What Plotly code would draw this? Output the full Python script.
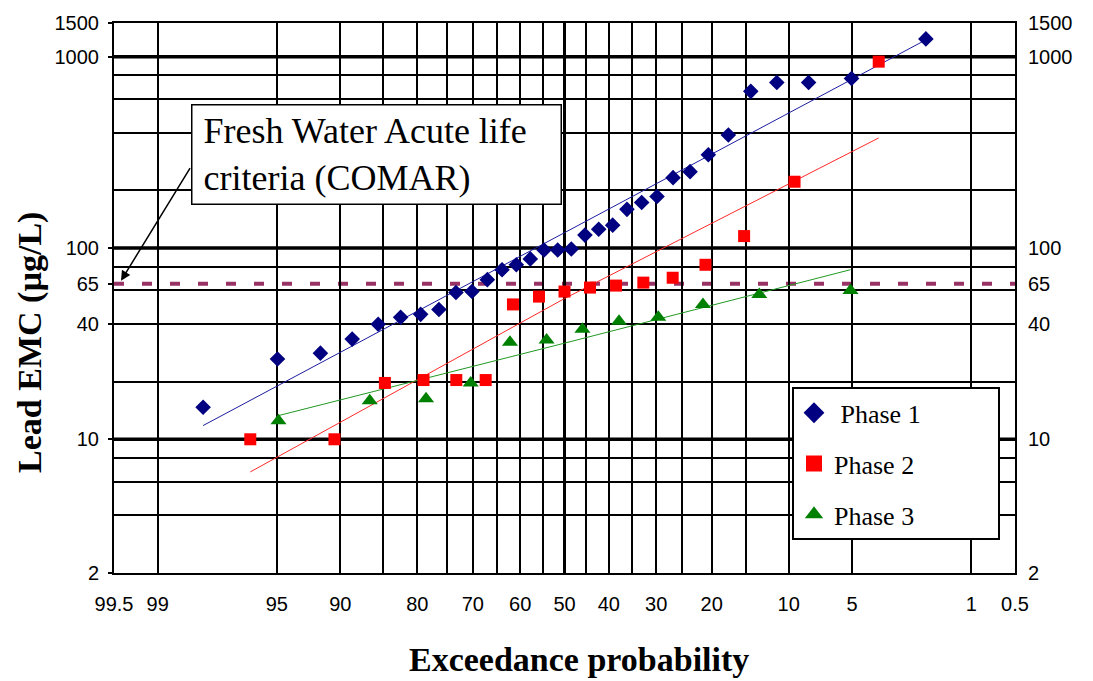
import math
from statistics import NormalDist
import plotly.graph_objects as go

# ---------------- data ----------------
phase1_exceed = [98.06, 94.96, 91.86, 88.76, 85.66, 82.56, 79.46, 76.36, 73.26, 70.16,
                 67.05, 63.95, 60.85, 57.75, 54.65, 51.55, 48.45, 45.35, 42.25, 39.15,
                 36.05, 32.95, 29.84, 26.74, 23.64, 20.54, 17.44, 14.34, 11.24, 8.14,
                 5.04, 1.94]
phase1_emc = [14.7, 26.3, 28.2, 33.4, 39.9, 43.4, 45.0, 47.7, 58.5, 59.2,
              68.3, 76.9, 81.7, 87.7, 97.6, 97.6, 98.8, 116.8, 125.4, 131.6,
              159.2, 173.0, 185.9, 233.2, 250.6, 307.0, 389.7, 659.0, 733.0, 733.0,
              769.0, 1239.0]

phase2_exceed = [96.38, 90.58, 84.78, 78.99, 73.19, 67.39, 61.59, 55.80, 50.00, 44.20,
                 38.41, 32.61, 26.81, 21.01, 15.22, 9.42, 3.62]
phase2_emc = [10.0, 10.0, 19.7, 20.4, 20.4, 20.4, 50.7, 55.7, 59.2, 62.1,
              63.6, 65.9, 69.9, 81.7, 115.4, 222.0, 942.0]

phase3_exceed = [94.90, 86.73, 78.57, 70.41, 62.24, 54.08, 45.92, 37.76, 29.59, 21.43,
                 13.27, 5.10]
phase3_emc = [12.5, 15.9, 16.3, 19.7, 32.2, 33.0, 37.6, 41.4, 43.4, 50.7, 57.1, 59.9]

# trend lines
trend1_exceed = [98.06, 50.0, 1.94]
trend1_emc = [11.8, 120.0, 1225.0]
trend2_exceed = [96.38, 50.0, 3.62]
trend2_emc = [6.75, 54.4, 376.0]
trend3_exceed = [94.90, 50.0, 5.10]
trend3_emc = [13.3, 31.8, 77.0]

criterion_value = 65
criterion_label = ["Fresh Water Acute life", "criteria (COMAR)"]

series_names = ["\u00a0Phase 1", "Phase 2", "Phase 3"]

x_grid_probs = [99.5, 99, 95, 90, 85, 80, 75, 70, 65, 60, 55, 50, 45, 40, 35, 30,
                25, 20, 15, 10, 5, 1, 0.5]
x_label_probs = [99.5, 99, 95, 90, 80, 70, 60, 50, 40, 30, 20, 10, 5, 1, 0.5]
x_label_text = ["99.5", "99", "95", "90", "80", "70", "60", "50", "40", "30", "20",
                "10", "5", "1", "0.5"]

y_grid_vals = [2, 4, 6, 8, 10, 20, 40, 60, 80, 100, 200, 400, 600, 800, 1000, 1500]
y_major_vals = [10, 100, 1000]
y_label_vals = [2, 10, 40, 65, 100, 1000, 1500]
y_label_text = ["2", "10", "40", "65", "100", "1000", "1500"]

y_min, y_max = 2, 1500
p_min, p_max = 99.5, 0.5

# ---------------- helpers ----------------
nd = NormalDist()


def px(p):
    """exceedance probability (%) -> normal-probability axis coordinate"""
    return nd.inv_cdf(1 - p / 100.0)


def pxl(lst):
    return [px(p) for p in lst]


SERIF = "Times New Roman, Liberation Serif, serif"
SANS = "Arial, Liberation Sans, sans-serif"

colors = ["#000080", "#ff0000", "#008000"]
symbols = ["diamond", "square", "triangle-up"]
sizes = [12, 12, 14]
trend_colors = ["#1c1ca0", "#ff2a2a", "#229922"]
pad_counts = [11, 12, 12]

fig = go.Figure()

trends = [(trend1_exceed, trend1_emc), (trend2_exceed, trend2_emc),
          (trend3_exceed, trend3_emc)]
for (te, tv), c in zip(trends, trend_colors):
    fig.add_trace(go.Scatter(x=pxl(te), y=tv, mode="lines",
                             line=dict(color=c, width=1), showlegend=False,
                             hoverinfo="skip"))

series = [(phase1_exceed, phase1_emc), (phase2_exceed, phase2_emc),
          (phase3_exceed, phase3_emc)]
for i, ((pe, pv), name) in enumerate(zip(series, series_names)):
    fig.add_trace(go.Scatter(x=pxl(pe), y=pv, mode="markers", name=name.strip(),
                             showlegend=False,
                             marker=dict(symbol=symbols[i], size=sizes[i],
                                         color=colors[i])))
    # legend entry with the larger legend symbol
    fig.add_trace(go.Scatter(x=[None], y=[None], mode="markers",
                             name=name + "\u00a0" * pad_counts[i],
                             legendgroup="g%d" % i,
                             marker=dict(symbol=symbols[i], size=16,
                                         color=colors[i])))

# invisible trace on the right-hand axis so it is drawn
fig.add_trace(go.Scatter(x=[px(50)], y=[criterion_value], yaxis="y2", mode="markers",
                         marker=dict(opacity=0), showlegend=False, hoverinfo="skip"))

shapes = []
for v in y_major_vals:
    shapes.append(dict(type="line", xref="paper", x0=0, x1=1, yref="y", y0=v, y1=v,
                       line=dict(color="black", width=3.5), layer="between"))
shapes.append(dict(type="line", xref="paper", x0=0, x1=1, yref="y",
                   y0=criterion_value, y1=criterion_value,
                   line=dict(color="#993366", width=4, dash="10px,18px"),
                   layer="between"))

yrange = [math.log10(y_min), math.log10(y_max)]
xrange = [px(p_min), px(p_max)]

fig.update_layout(
    width=1093, height=681,
    margin=dict(l=114, r=78, t=16, b=108),
    paper_bgcolor="white", plot_bgcolor="white",
    shapes=shapes,
    xaxis=dict(
        range=xrange, tickmode="array", tickvals=pxl(x_label_probs),
        ticktext=x_label_text, showgrid=False, ticks="",
        tickfont=dict(family=SANS, size=20, color="black"),
        ticklabelstandoff=12,
        minor=dict(tickmode="array", tickvals=pxl(x_grid_probs), showgrid=True,
                   gridcolor="black", gridwidth=1.5, ticks=""),
        zeroline=True, zerolinecolor="black", zerolinewidth=3,
        showline=True, linecolor="black", linewidth=2, mirror=True,
    ),
    yaxis=dict(
        type="log", range=yrange, tickmode="array", tickvals=y_label_vals,
        ticktext=y_label_text, showgrid=False, ticks="outside", ticklen=4,
        tickcolor="black", tickwidth=1.5,
        tickfont=dict(family=SANS, size=20, color="black"),
        ticklabelstandoff=5,
        minor=dict(tickmode="array", tickvals=y_grid_vals, showgrid=True,
                   gridcolor="black", gridwidth=1.5, ticks=""),
        showline=True, linecolor="black", linewidth=2, mirror=True,
        zeroline=False,
    ),
    yaxis2=dict(
        type="log", range=yrange, overlaying="y", side="right",
        tickmode="array", tickvals=y_label_vals, ticktext=y_label_text,
        showgrid=False, ticks="", zeroline=False, showline=False,
        tickfont=dict(family=SANS, size=20, color="black"),
        ticklabelstandoff=12,
    ),
    legend=dict(
        x=(792 - 114) / 901, y=(573 - 385) / 557, xanchor="left", yanchor="top",
        bgcolor="white", bordercolor="black", borderwidth=2,
        font=dict(family=SERIF, size=26, color="black"),
        traceorder="grouped", tracegroupgap=14, itemsizing="trace",
    ),
    annotations=[
        dict(text="<br>".join("\u00a0" + t for t in criterion_label),
             xref="paper", yref="paper", x=(191 - 114) / 901, y=(573 - 98) / 557,
             xanchor="left", yanchor="top", showarrow=False, align="left",
             valign="middle", width=364, height=94,
             font=dict(family=SERIF, size=36, color="black"),
             bgcolor="white", bordercolor="black", borderwidth=1.5, borderpad=2),
        dict(text="", xref="paper", yref="paper", x=(121 - 114) / 901,
             y=(573 - 277) / 557, ax=70, ay=-114, showarrow=True, arrowhead=2,
             arrowsize=1.3, arrowwidth=1.5, arrowcolor="black", standoff=0),
        dict(text="<b>Lead EMC (µg/L)</b>", xref="paper", yref="paper",
             x=(30 - 114) / 901, y=(573 - 340) / 557, textangle=-90,
             showarrow=False, xanchor="center", yanchor="middle",
             font=dict(family=SERIF, size=34, color="black")),
        dict(text="<b>Exceedance probability</b>", xref="paper", yref="paper",
             x=(579 - 114) / 901, y=(573 - 661) / 557, showarrow=False,
             xanchor="center", yanchor="middle",
             font=dict(family=SERIF, size=34, color="black")),
    ],
)

fig.write_html("out.html")
